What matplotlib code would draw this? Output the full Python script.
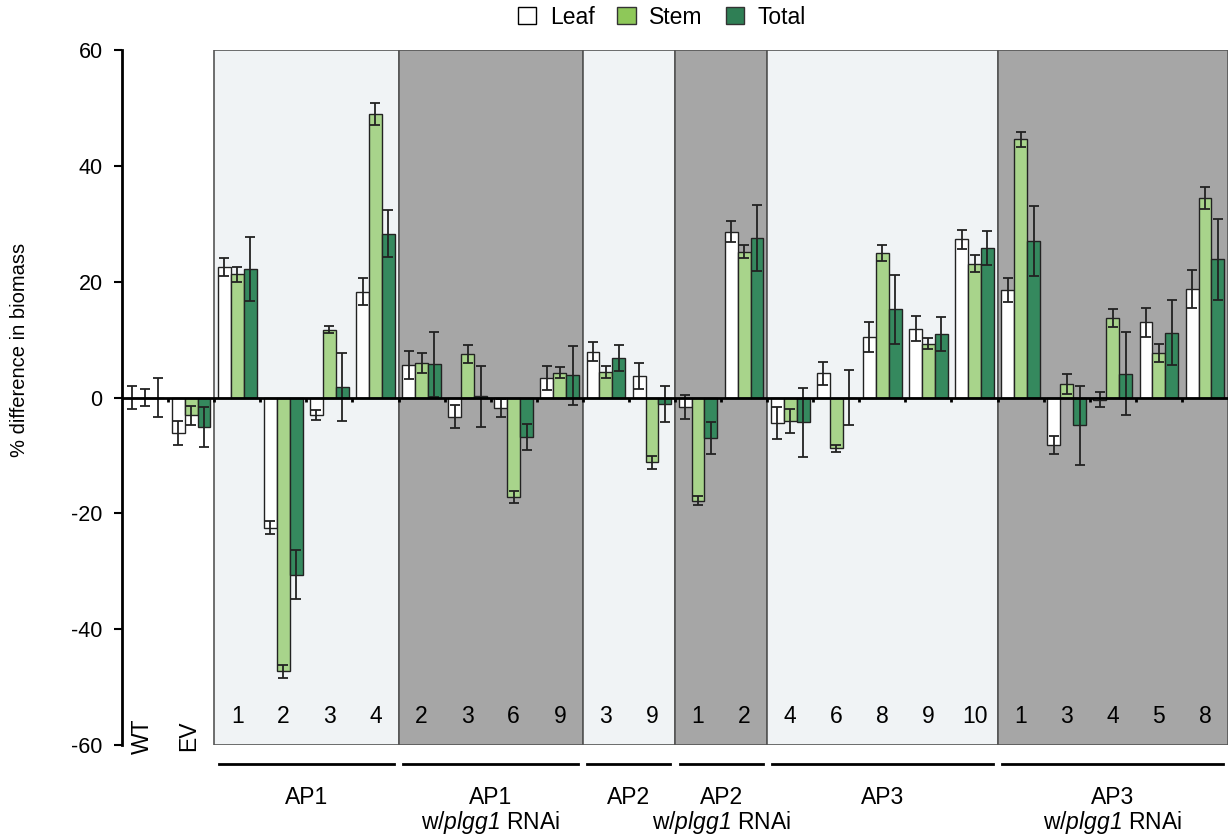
import matplotlib
matplotlib.use("Agg")
import matplotlib.pyplot as plt
from matplotlib.patches import Patch, Rectangle
import numpy as np

plt.rcParams["font.family"] = ["Liberation Sans", "DejaVu Sans"]
plt.rcParams["axes.unicode_minus"] = False
# курсив для plgg1 (цифры тоже курсивом)
plt.rcParams["mathtext.fontset"] = "custom"
plt.rcParams["mathtext.rm"] = "Liberation Sans:italic"
plt.rcParams["mathtext.it"] = "Liberation Sans:italic"

# Подписи под столбцами (по одной на группу)
line_labels = ["WT", "EV",
               "1", "2", "3", "4",
               "2", "3", "6", "9",
               "3", "9",
               "1", "2",
               "4", "6", "8", "9", "10",
               "1", "3", "4", "5", "8"]

# Секции (подложки) и их подписи
section_names = ["AP1", "AP1\nw/$plgg1$ RNAi", "AP2", "AP2\nw/$plgg1$ RNAi",
                 "AP3", "AP3\nw/$plgg1$ RNAi"]
section_sizes = [4, 4, 2, 2, 5, 5]
section_dark = [False, True, False, True, False, True]

# Значения, % разницы в биомассе
leaf = [0, -6.1, 22.5, -22.5, -3.0, 18.3, 5.6, -3.3, -1.8, 3.4, 7.9, 3.7,
        -1.6, 28.6, -4.4, 4.2, 10.4, 11.9, 27.3, 18.6, -8.2, -0.4, 13.0, 18.7]
leaf_err = [2.0, 2.1, 1.6, 1.1, 0.9, 2.4, 2.4, 2.0, 1.6, 2.1, 1.6, 2.2,
            2.1, 1.8, 2.8, 2.0, 2.6, 2.1, 1.6, 2.1, 1.5, 1.3, 2.5, 3.3]
stem = [0, -3.1, 21.3, -47.3, 11.7, 49.0, 5.9, 7.5, -17.2, 4.3, 4.4, -11.2,
        -17.8, 25.2, -4.0, -8.8, 25.0, 9.3, 23.1, 44.6, 2.3, 13.7, 7.7, 34.4]
stem_err = [1.5, 1.6, 1.3, 1.1, 0.6, 1.9, 1.7, 1.6, 1.0, 1.0, 1.1, 1.1,
            0.8, 1.1, 2.1, 0.6, 1.4, 1.0, 1.5, 1.3, 1.7, 1.5, 1.5, 1.9]
total = [0, -5.1, 22.2, -30.6, 1.8, 28.3, 5.7, 0.2, -6.8, 3.8, 6.8, -1.1,
         -7.0, 27.5, -4.3, 0.0, 15.2, 11.0, 25.8, 27.0, -4.8, 4.1, 11.2, 23.9]
total_err = [3.3, 3.5, 5.5, 4.2, 5.9, 4.0, 5.6, 5.3, 2.2, 5.1, 2.3, 3.1,
             2.8, 5.7, 6.0, 4.7, 5.9, 2.9, 2.9, 6.1, 6.8, 7.2, 5.6, 7.0]

c_leaf = "white"
c_stem = "#a8d48b"
c_total = "#35895e"

fig = plt.figure(figsize=(12.28, 8.36), dpi=100)
ax = fig.add_axes([122 / 1228, 1 - 745 / 836, 1 - 122 / 1228, (745 - 50) / 836])

n = len(line_labels)
x = np.arange(n) + 0.5
w = 0.28

# Подложки секций
start = 2
for name, size, dark in zip(section_names, section_sizes, section_dark):
    fc = "#a6a6a6" if dark else "#f0f3f5"
    ax.add_patch(Rectangle((start, -60), size, 120, facecolor=fc,
                           edgecolor="#555555", lw=1.2, zorder=0))
    ax.plot([start + 0.1, start + size - 0.1], [-63.3, -63.3], color="black",
            lw=2, clip_on=False)
    ax.text(start + size / 2, -67.0, name, ha="center", va="top", fontsize=16.5,
            linespacing=1.0, clip_on=False)
    start += size

err_kw = dict(ecolor="#222222", elinewidth=1.3, capsize=3.5, capthick=1.3)
ax.bar(x - w, leaf, w, yerr=leaf_err, color=c_leaf, edgecolor="#222222",
       lw=1, error_kw=err_kw, zorder=2)
ax.bar(x, stem, w, yerr=stem_err, color=c_stem, edgecolor="#222222",
       lw=1, error_kw=err_kw, zorder=2)
ax.bar(x + w, total, w, yerr=total_err, color=c_total, edgecolor="#222222",
       lw=1, error_kw=err_kw, zorder=2)

# Нулевая линия и засечки между группами
ax.axhline(0, color="black", lw=2, zorder=3)
ax.vlines(np.arange(1, n), -0.7, 0, color="black", lw=2, zorder=3)

# Подписи линий
for i, lab in enumerate(line_labels):
    if i < 2:
        ax.text(x[i] - 0.05, -61.6 + 0.6 * i, lab, rotation=90, ha="center",
                va="bottom", fontsize=16.5, clip_on=False)
    else:
        ax.text(x[i], -55, lab, ha="center", va="center", fontsize=16.5)

ax.set_xlim(0, n)
ax.set_ylim(-60, 60)
ax.set_yticks(np.arange(-60, 61, 20))
ax.tick_params(axis="y", labelsize=15.5, length=6, width=1.5, pad=8)
ax.set_xticks([])
for s in ["top", "right", "bottom"]:
    ax.spines[s].set_visible(False)
ax.spines["left"].set_linewidth(2)
fig.text(20 / 1228, 1 - 350 / 836, "% difference in biomass", rotation=90,
         ha="center", va="center", fontsize=14.5)

handles = [Patch(facecolor="white", edgecolor="black", label="Leaf"),
           Patch(facecolor="#8ec859", edgecolor="#333333", label="Stem"),
           Patch(facecolor="#2f7f55", edgecolor="#333333", label="Total")]
fig.legend(handles=handles, loc="upper center", bbox_to_anchor=(0.539, 1.018),
           ncol=3, frameon=False, fontsize=16.5, handlelength=0.8,
           handleheight=0.8, columnspacing=1.0, handletextpad=0.6)

plt.savefig("out.png", dpi=100)
